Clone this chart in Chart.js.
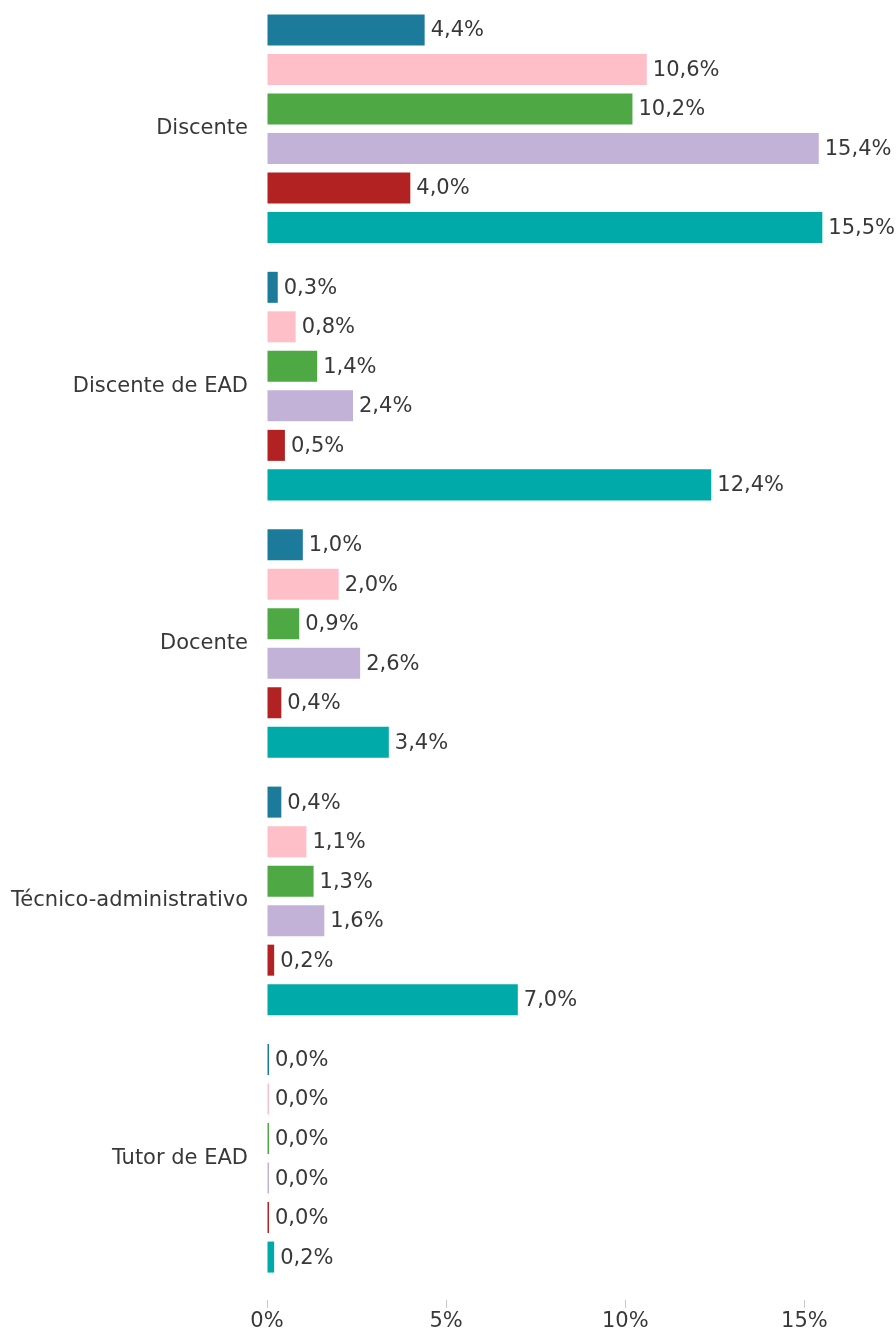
<!DOCTYPE html>
<html lang="pt">

<head>
    <meta charset="UTF-8">
    <title>Gráfico</title>
    <style>
        body { margin: 0; background: #fff; }
        .container { width: 896px; height: 1332px; position: relative; }
    </style>
</head>

<body>
    <div class="container">
        <canvas id="grafico"></canvas>
    </div>

    <script src="https://cdn.jsdelivr.net/npm/chart.js"></script>
    <script>
        // categorias (eixo y)
        let categorias = ["Discente", "Discente de EAD", "Docente", "Técnico-administrativo", "Tutor de EAD"]

        // uma série por cor, valores em %
        let serie1 = [4.4, 0.3, 1.0, 0.4, 0.0]
        let serie2 = [10.6, 0.8, 2.0, 1.1, 0.0]
        let serie3 = [10.2, 1.4, 0.9, 1.3, 0.0]
        let serie4 = [15.4, 2.4, 2.6, 1.6, 0.0]
        let serie5 = [4.0, 0.5, 0.4, 0.2, 0.0]
        let serie6 = [15.5, 12.4, 3.4, 7.0, 0.2]

        let ticksX = [0, 5, 10, 15]

        let series = [serie1, serie2, serie3, serie4, serie5, serie6]
        let cores = ["#1c7b9a", "#ffbfc8", "#4ea843", "#c3b2d7", "#b22222", "#00aaa8"]

        let fonte = { family: "'DejaVu Sans', sans-serif", size: 21 }
        let corTexto = "#383838"

        let datasetChart = []
        series.forEach((valores, i) => {
            datasetChart.push({
                label: "Série " + (i + 1),
                data: valores,
                backgroundColor: cores[i],
                borderWidth: 0,
                minBarLength: 2,
                categoryPercentage: 0.921,
                barPercentage: 0.785
            })
        })

        function formato(v) {
            return v.toFixed(1).replace(".", ",") + "%"
        }

        // rótulos ao lado de cada barra
        let rotulos = {
            id: "rotulos",
            afterDatasetsDraw(chart) {
                let ctx = chart.ctx
                ctx.save()
                ctx.font = fonte.size + "px " + fonte.family
                ctx.fillStyle = corTexto
                ctx.textAlign = "left"
                ctx.textBaseline = "middle"
                chart.data.datasets.forEach((ds, i) => {
                    chart.getDatasetMeta(i).data.forEach((barra, j) => {
                        ctx.fillText(formato(ds.data[j]), barra.x + 6, barra.y + 1)
                    })
                })
                ctx.restore()
            }
        }

        let canvaDom = document.querySelector("#grafico")
        new Chart(canvaDom, {
            type: "bar",
            data: {
                labels: categorias,
                datasets: datasetChart
            },
            options: {
                indexAxis: "y",
                responsive: true,
                maintainAspectRatio: false,
                animation: false,
                layout: { padding: { top: 0, right: 2, left: 0, bottom: 0 } },
                plugins: {
                    legend: { display: false },
                    tooltip: { enabled: false }
                },
                scales: {
                    x: {
                        min: 0,
                        max: 17.5,
                        afterFit(s) {
                            s.height = 45
                            s.paddingLeft = 0
                            s.paddingRight = 0
                        },
                        afterBuildTicks(s) { s.ticks = ticksX.map(v => ({ value: v })) },
                        border: { display: false },
                        grid: {
                            drawOnChartArea: false,
                            tickLength: 21,
                            tickColor: "#c8c8c8",
                            tickBorderDash: [8, 13],
                            tickBorderDashOffset: 8
                        },
                        ticks: {
                            padding: 1,
                            color: corTexto,
                            font: fonte,
                            callback: v => v + "%"
                        }
                    },
                    y: {
                        afterFit(s) {
                            s.width = 267
                            s.paddingTop = 0
                            s.paddingBottom = 0
                        },
                        border: { display: false },
                        grid: { display: false },
                        ticks: {
                            padding: 11,
                            color: corTexto,
                            font: fonte
                        }
                    }
                }
            },
            plugins: [rotulos]
        })
    </script>
</body>

</html>
